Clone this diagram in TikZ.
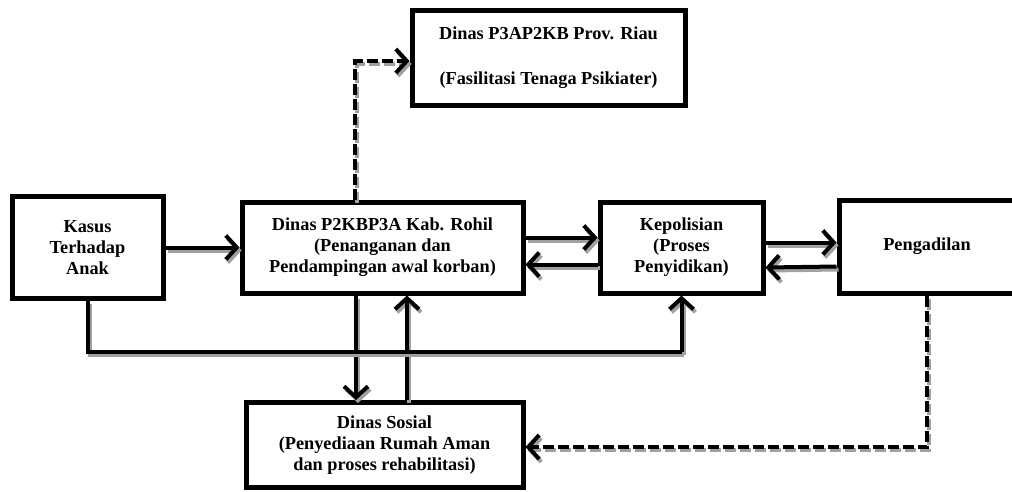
\documentclass[tikz,border=0pt]{standalone}
\usepackage{fontspec}
\setmainfont{Liberation Serif}
\usepackage{tikz}
\usetikzlibrary{arrows.meta,positioning}
\definecolor{bayangan}{RGB}{160,160,160}
\tikzstyle{kotak} = [rectangle, draw=black, line width=5pt, fill=white, align=center, inner sep=2pt, font=\fontsize{18.3}{21}\selectfont\bfseries]
\tikzstyle{garis} = [line width=4pt, line join=miter]
\tikzstyle{panah} = [garis, -{Straight Barb[length=11pt,width=24pt]}]
\tikzstyle{putus} = [panah, dash pattern=on 11pt off 4pt]
\tikzstyle{bayang} = [draw=bayangan, transform canvas={shift={(2pt,-3pt)}}]
% garis dengan bayangan abu-abu
\newcommand{\garisbayang}[2]{\draw[#1, bayang] #2; \draw[#1] #2;}

\begin{document}
\begin{tikzpicture}[x=1pt, y=-1pt]
\useasboundingbox (0,0) rectangle (1012,491);
% kotak-kotak
\node[kotak, minimum width=151pt, minimum height=102pt] (kasus) at (87.5,247.5) {Kasus\\Terhadap\\Anak};
\node[kotak, minimum width=281pt, minimum height=91pt] (dinasp2) at (382.5,247.5) {Dinas P2KBP3A Kab. Rohil\\(Penanganan dan\\Pendampingan awal korban)};
\node[kotak, minimum width=163pt, minimum height=91pt] (polisi) at (681.5,247.5) {Kepolisian\\(Proses\\Penyidikan)};
\node[kotak, minimum width=176pt, minimum height=93pt] (adil) at (927,246.5) {Pengadilan};
\node[kotak, minimum width=273pt, minimum height=95pt] (provinsi) at (548.5,57.5) {Dinas P3AP2KB Prov. Riau\\[24pt](Fasilitasi Tenaga Psikiater)};
\node[kotak, minimum width=277pt, minimum height=85pt] (sosial) at (384.5,445) {Dinas Sosial\\(Penyediaan Rumah Aman\\dan proses rehabilitasi)};
\coordinate (jalur) at (0,352);

% panah
\garisbayang{panah}{(kasus) -- (dinasp2)}
\garisbayang{panah}{([yshift=10pt]dinasp2.east) -- ([yshift=10pt]polisi.west)}
\garisbayang{panah}{([yshift=-17pt]polisi.west) -- ([yshift=-17pt]dinasp2.east)}
\garisbayang{panah}{([yshift=5pt]polisi.east) -- ([yshift=5pt]polisi.east -| adil.west)}
\garisbayang{panah}{([yshift=-20pt]adil.west) -- ([yshift=-20pt]polisi.east)}
\garisbayang{panah}{([xshift=-26.5pt]dinasp2.south) -- ([xshift=-26.5pt]dinasp2.south |- sosial.north)}
\garisbayang{panah}{([xshift=22.5pt]sosial.north) -- ([xshift=22.5pt]sosial.north |- dinasp2.south)}
\garisbayang{garis}{(kasus.south) -- (kasus.south |- jalur) -- (polisi.south |- jalur)}
\garisbayang{panah}{(polisi.south |- jalur) -- (polisi.south)}
\garisbayang{putus}{([xshift=-27.5pt]dinasp2.north) |- ([yshift=-3.5pt]provinsi.west)}
\garisbayang{putus}{(adil.south) |- ([yshift=-2pt]sosial.east)}
\end{tikzpicture}
\end{document}
